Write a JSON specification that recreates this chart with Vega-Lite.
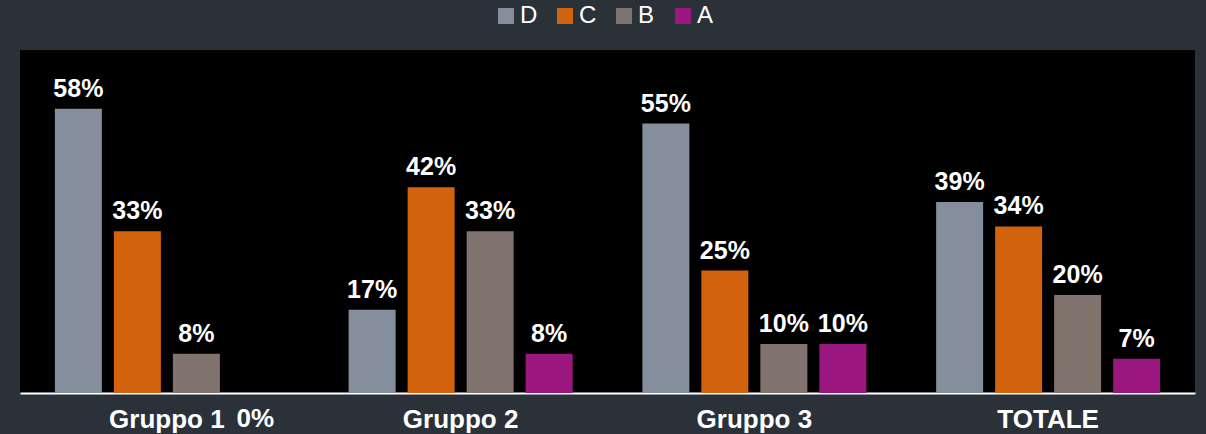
{
  "$schema": "https://vega.github.io/schema/vega-lite/v6.json",
  "width": 1175,
  "height": 343,
  "autosize": {"type": "none"},
  "padding": {"left": 20, "top": 50, "right": 11, "bottom": 41},
  "background": "#2a3139",
  "config": {"view": {"fill": "#000000", "stroke": null}, "font": "Liberation Sans"},
  "data": {"values": [
    {"gruppo": "Gruppo 1", "serie": "D", "value": 0.58},
    {"gruppo": "Gruppo 1", "serie": "C", "value": 0.33},
    {"gruppo": "Gruppo 1", "serie": "B", "value": 0.08},
    {"gruppo": "Gruppo 1", "serie": "A", "value": 0.0},
    {"gruppo": "Gruppo 2", "serie": "D", "value": 0.17},
    {"gruppo": "Gruppo 2", "serie": "C", "value": 0.42},
    {"gruppo": "Gruppo 2", "serie": "B", "value": 0.33},
    {"gruppo": "Gruppo 2", "serie": "A", "value": 0.08},
    {"gruppo": "Gruppo 3", "serie": "D", "value": 0.55},
    {"gruppo": "Gruppo 3", "serie": "C", "value": 0.25},
    {"gruppo": "Gruppo 3", "serie": "B", "value": 0.10},
    {"gruppo": "Gruppo 3", "serie": "A", "value": 0.10},
    {"gruppo": "TOTALE", "serie": "D", "value": 0.39},
    {"gruppo": "TOTALE", "serie": "C", "value": 0.34},
    {"gruppo": "TOTALE", "serie": "B", "value": 0.20},
    {"gruppo": "TOTALE", "serie": "A", "value": 0.07}
  ]},
  "encoding": {
    "x": {
      "field": "gruppo", "type": "nominal",
      "sort": ["Gruppo 1", "Gruppo 2", "Gruppo 3", "TOTALE"],
      "scale": {"paddingInner": 0, "paddingOuter": 0},
      "axis": {
        "title": null, "labelAngle": 0, "ticks": false, "tickSize": 0, "grid": false,
        "domain": true, "domainColor": "#ffffff", "domainWidth": 2,
        "labelColor": "#ffffff", "labelFontSize": 26, "labelFontWeight": "bold",
        "labelFont": "Liberation Sans", "labelBaseline": "alphabetic", "labelPadding": 34
      }
    },
    "xOffset": {
      "field": "serie", "type": "nominal", "sort": ["D", "C", "B", "A"],
      "scale": {"paddingInner": 0.2034, "paddingOuter": 0.5911}
    },
    "y": {
      "field": "value", "type": "quantitative",
      "scale": {"domain": [0, 0.7], "nice": false, "zero": true},
      "axis": null
    }
  },
  "layer": [
    {
      "mark": {"type": "bar"},
      "encoding": {
        "color": {
          "field": "serie", "type": "nominal",
          "sort": ["D", "C", "B", "A"],
          "scale": {"domain": ["D", "C", "B", "A"], "range": ["#858e9c", "#d3620c", "#81746e", "#9a177f"]},
          "legend": {
            "title": null, "orient": "none", "direction": "horizontal",
            "legendX": 474, "legendY": -46, "padding": 0,
            "symbolType": "square", "symbolSize": 256, "symbolStrokeWidth": 0, "symbolOpacity": 1,
            "labelFontSize": 24, "labelColor": "#ffffff", "labelFont": "Liberation Sans",
            "labelOffset": 2, "columnPadding": 15, "gridAlign": "all"
          }
        }
      }
    },
    {
      "transform": [{"filter": "datum.value > 0"}],
      "mark": {"type": "text", "dy": -12, "baseline": "alphabetic", "align": "center",
               "fontSize": 25, "fontWeight": "bold", "color": "#ffffff", "font": "Liberation Sans"},
      "encoding": {"text": {"field": "value", "type": "quantitative", "format": ".0%"}}
    },
    {
      "transform": [{"filter": "datum.value == 0"}],
      "mark": {"type": "text", "dy": 34, "baseline": "alphabetic", "align": "center",
               "fontSize": 26, "fontWeight": "bold", "color": "#ffffff", "font": "Liberation Sans"},
      "encoding": {"text": {"field": "value", "type": "quantitative", "format": ".0%"}}
    }
  ]
}
